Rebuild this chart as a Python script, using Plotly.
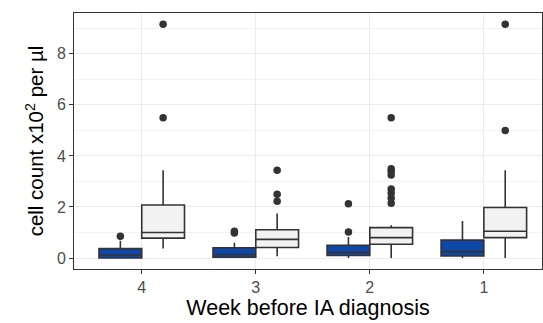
import plotly.graph_objects as go

weeks = ["4", "3", "2", "1"]

# group 1 (blue)
blue_q1 = [0.0, 0.03, 0.1, 0.08]
blue_median = [0.12, 0.14, 0.22, 0.25]
blue_q3 = [0.37, 0.4, 0.5, 0.7]
blue_lower = [0.0, 0.0, 0.0, 0.0]
blue_upper = [0.68, 0.6, 0.82, 1.45]
blue_outliers = [[0.85], [0.98, 1.05], [1.02, 2.13], []]

# group 2 (light gray)
gray_q1 = [0.78, 0.41, 0.54, 0.8]
gray_median = [1.0, 0.73, 0.8, 1.05]
gray_q3 = [2.08, 1.11, 1.19, 1.98]
gray_lower = [0.37, 0.07, 0.0, 0.0]
gray_upper = [3.44, 1.74, 1.28, 3.44]
gray_outliers = [[5.5, 9.16], [2.22, 2.5, 3.44], [2.15, 2.35, 2.55, 2.7, 3.25, 3.4, 3.5, 5.5], [5.0, 9.16]]

y_ticks = [0, 2, 4, 6, 8]

line_col = "#333333"
font_fam = "Liberation Sans, Arial, sans-serif"

fig = go.Figure()
for name, q1, med, q3, lo, up, outs, fill in [
    ("Controls", blue_q1, blue_median, blue_q3, blue_lower, blue_upper, blue_outliers, "#0E47A8"),
    ("IA patients", gray_q1, gray_median, gray_q3, gray_lower, gray_upper, gray_outliers, "#F2F2F2"),
]:
    fig.add_trace(go.Box(
        name=name, x=weeks, q1=q1, median=med, q3=q3,
        lowerfence=lo, upperfence=up, y=outs,
        boxpoints="all", jitter=0, pointpos=0,
        fillcolor=fill,
        line=dict(color=line_col, width=1.6),
        marker=dict(color=line_col, size=7.5, line=dict(width=0)),
        whiskerwidth=0,
        showlegend=False,
    ))

fig.update_layout(
    width=543, height=323,
    margin=dict(l=74, r=1, t=13, b=54),
    paper_bgcolor="white", plot_bgcolor="white",
    boxmode="group", boxgap=0.25, boxgroupgap=0,
    font=dict(family=font_fam, color="#4d4d4d", size=16),
    showlegend=False,
)
fig.update_xaxes(
    type="category", range=[-0.594, 3.51],
    showgrid=True, gridcolor="#ebebeb", gridwidth=1,
    showline=True, mirror=True, linecolor=line_col, linewidth=1,
    ticks="outside", ticklen=4, tickcolor=line_col, tickwidth=1,
    tickfont=dict(size=16, color="#4d4d4d"),
    title=dict(text="Week before IA diagnosis", font=dict(size=21.5, color="black"), standoff=4),
    zeroline=False,
)
fig.update_yaxes(
    range=[-0.43, 9.6], tickvals=y_ticks, ticktext=[str(v) for v in y_ticks],
    showgrid=True, gridcolor="#ebebeb", gridwidth=1,
    minor=dict(tickvals=[1, 3, 5, 7, 9], showgrid=True, gridcolor="#f2f2f2", gridwidth=0.6, ticklen=0),
    showline=True, mirror=True, linecolor=line_col, linewidth=1,
    ticks="outside", ticklen=4, tickcolor=line_col, tickwidth=1,
    tickfont=dict(size=16, color="#4d4d4d"),
    title=dict(text="cell count x10<sup>2</sup> per µl", font=dict(size=20.5, color="black"), standoff=7),
    zeroline=False,
)

fig.write_html("out.html", config={"displayModeBar": False},
               post_script="document.body.style.margin='0';")
